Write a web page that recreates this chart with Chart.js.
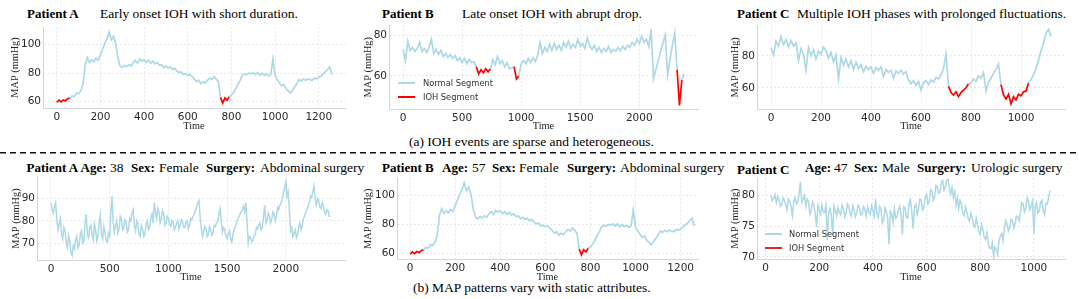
<!DOCTYPE html>
<html>
<head>
<meta charset="utf-8">
<title>IOH MAP examples</title>
<script src="https://cdn.jsdelivr.net/npm/chart.js"></script>
<style>
  body { margin: 0; width: 1079px; height: 299px; position: relative; overflow: hidden; background: #fff;
         font-family: 'Liberation Serif', 'Times New Roman', serif; color: #000; }
  .txt { position: absolute; white-space: pre; font-size: 13.5px; line-height: 13px; }
  .txt b { font-size: 13px; }
  .leg { position: absolute; font-family: 'DejaVu Sans', sans-serif; font-size: 8.3px; line-height: 10px; color: #333; white-space: pre; }
  .legline { position: absolute; height: 2px; width: 17px; }
  canvas { position: absolute; }
</style>
</head>
<body>

<!-- row (a) titles -->
<div class="txt" style="left:27px;top:6.5px"><b>Patient A</b></div>
<div class="txt" style="left:100px;top:6.5px">Early onset IOH with short duration.</div>
<div class="txt" style="left:382px;top:6.5px"><b>Patient B</b></div>
<div class="txt" style="left:462px;top:6.5px">Late onset IOH with abrupt drop.</div>
<div class="txt" style="left:737px;top:6.5px"><b>Patient C</b></div>
<div class="txt" style="left:797px;top:6.5px">Multiple IOH phases with prolonged fluctuations.</div>
<div class="txt" style="left:409px;top:134.5px">(a) IOH events are sparse and heterogeneous.</div>

<svg style="position:absolute;left:0;top:0" width="1079" height="299">
  <line x1="0" y1="152.7" x2="1079" y2="152.7" stroke="#111" stroke-width="1.4" stroke-dasharray="6 4"/>
</svg>

<!-- row (b) titles -->
<div class="txt" style="left:26.5px;top:160.7px"><b>Patient A</b></div>
<div class="txt" style="left:80.5px;top:160.7px"><b>Age:</b></div>
<div class="txt" style="left:110px;top:160.7px">38</div>
<div class="txt" style="left:131px;top:160.7px"><b>Sex:</b></div>
<div class="txt" style="left:159px;top:160.7px">Female</div>
<div class="txt" style="left:206px;top:160.7px"><b>Surgery:</b></div>
<div class="txt" style="left:260px;top:160.7px">Abdominal surgery</div>

<div class="txt" style="left:382px;top:160.7px"><b>Patient B</b></div>
<div class="txt" style="left:442px;top:160.7px"><b>Age:</b></div>
<div class="txt" style="left:472px;top:160.7px">57</div>
<div class="txt" style="left:492px;top:160.7px"><b>Sex:</b></div>
<div class="txt" style="left:519px;top:160.7px">Female</div>
<div class="txt" style="left:567px;top:160.7px"><b>Surgery:</b></div>
<div class="txt" style="left:620px;top:160.7px">Abdominal surgery</div>

<div class="txt" style="left:737px;top:163px"><b>Patient C</b></div>
<div class="txt" style="left:805px;top:160.7px"><b>Age:</b></div>
<div class="txt" style="left:834px;top:160.7px">47</div>
<div class="txt" style="left:854px;top:160.7px"><b>Sex:</b></div>
<div class="txt" style="left:882px;top:160.7px">Male</div>
<div class="txt" style="left:917px;top:160.7px"><b>Surgery:</b></div>
<div class="txt" style="left:971px;top:160.7px">Urologic surgery</div>
<div class="txt" style="left:413px;top:281px">(b) MAP patterns vary with static attributes.</div>

<canvas id="p1"></canvas>
<canvas id="p2"></canvas>
<canvas id="p3"></canvas>
<canvas id="p4"></canvas>
<canvas id="p5"></canvas>
<canvas id="p6"></canvas>

<!-- legends -->
<div class="legline" style="left:398px;top:82px;background:#add8e6"></div>
<div class="leg" style="left:423px;top:78px">Normal Segment</div>
<div class="legline" style="left:398px;top:96px;background:#ff0000"></div>
<div class="leg" style="left:423px;top:92px">IOH Segment</div>

<div class="legline" style="left:765px;top:233px;background:#add8e6"></div>
<div class="leg" style="left:789px;top:229px">Normal Segment</div>
<div class="legline" style="left:765px;top:247px;background:#e8251e"></div>
<div class="leg" style="left:789px;top:243px">IOH Segment</div>

<script>
// ── Data ───────────────────────────────────────

// Patient A (early onset IOH), used in both rows
const patientAStep = 10;
const patientAMap = [
  59.5, 61, 59.8, 61.2, 60.5, 62, 62.5, 64, 63.5, 66,
  65.5, 67.5, 72, 86, 91, 87.5, 89.5, 88, 90.5, 89,
  93, 97, 101, 104, 109, 103.5, 106, 101, 91, 85,
  84, 85.5, 84.5, 86, 85, 87.5, 89, 87, 90, 88.5,
  89.5, 87.5, 89, 87, 88.5, 86.5, 87.5, 85.5, 86, 84,
  85, 83.5, 84.5, 82.5, 83.5, 81.5, 80.5, 81, 79, 79.5,
  78.5, 79, 77.5, 76, 74, 75, 72.5, 74, 73, 75,
  76.5, 75.5, 77.5, 76, 74, 63, 59, 62.5, 61, 63.5,
  64.5, 66.5, 69, 72.5, 75, 78.5, 79.5, 79, 80, 79.5,
  80.5, 79, 80.5, 78.5, 80, 78.5, 79.5, 78, 79, 90,
  78, 75.5, 73, 71, 72, 69, 67.5, 66, 68, 70.5,
  72.5, 75.5, 74.5, 76, 75, 76, 75.5, 75, 76.5, 76,
  77, 78, 79.5, 81, 82.5, 84.5, 79
];
const patientAIoh = [[0, 6], [75, 79]];

// Patient B (late onset IOH with abrupt drop)
const patientBStep = 20;
const patientBMap = [
  73, 67.5, 77, 72.5, 74, 72, 73.5, 76.5, 72, 73.5,
  71.5, 74, 78, 71, 73, 70.5, 72.5, 69.5, 71, 69,
  70.5, 68.5, 70, 67.5, 69, 66.5, 68.5, 66, 68, 66.5,
  67, 64.5, 61, 63, 61.5, 63.5, 62, 63.5, 68, 65.5,
  69.5, 66, 67.5, 64.5, 66.5, 63.5, 64, 64.5, 58.5, 60,
  66, 67.5, 66, 68.5, 66.5, 69, 67, 70, 76.5, 71,
  74, 72, 75.5, 72.5, 76, 73, 75, 72.5, 76.5, 74,
  77, 73.5, 75.5, 74, 78, 74.5, 76, 73.5, 78.5, 75,
  73, 75, 72, 74, 71.5, 73.5, 72, 74.5, 71.5, 73,
  72, 74, 72.5, 74.5, 73, 75, 74, 76.5, 75, 78,
  76, 79.5, 76.5, 78, 74.5, 83, 58.5, 63, 67.5, 72,
  76, 80, 60.5, 68, 75, 81, 63, 45.5, 58, 61
];
const patientBIoh = [[31, 37], [47, 49], [116, 118]];

// Patient C (multiple IOH phases)
const patientCStep = 10;
const patientCMap = [
  85, 80.5, 89, 86, 92, 87, 90, 85.5, 89.5, 86,
  88, 77, 84.5, 81, 71, 85, 80, 84, 78, 83,
  81, 85.5, 83, 78.5, 82, 76, 80.5, 65.5, 79, 74,
  78, 73, 77, 71.5, 76, 72, 74.5, 70, 73.5, 71.5,
  73, 69, 72.5, 71, 73, 67, 71.5, 69.5, 71, 66,
  70.5, 69, 71, 68.5, 70, 65, 62.5, 64.5, 61.5, 64,
  58.5, 63, 64.5, 62, 65, 63.5, 66.5, 65.5, 68, 72,
  81, 61, 57, 55.5, 57.5, 54.5, 57, 58.5, 60, 62.5,
  63, 65.5, 64, 67.5, 66, 69.5, 58, 63.5, 66, 69,
  71.5, 75, 62, 55.5, 53, 56, 50, 54.5, 52.5, 56,
  55, 57.5, 58, 63, 65, 68, 72, 77, 83, 88,
  94, 96.5, 92
];
const patientCIoh = [[71, 79], [92, 103]];

// Row (b) Patient A: age 38, female, abdominal surgery
const staticAStep = 10;
const staticAMap = [
  88, 85, 83.5, 86.5, 88, 80, 76, 78.5, 81, 74,
  72, 77, 75.5, 70, 68, 73.5, 71, 66, 64.5, 69,
  67.5, 71.5, 73, 68, 69, 74, 75.5, 70, 71, 79,
  83, 74, 72.5, 77, 78, 73.5, 71.5, 78.5, 76, 71,
  73, 79, 82.5, 74, 72, 77.5, 75, 71, 70.5, 74.5,
  73, 84, 91, 79, 75, 78, 80, 74.5, 76.5, 82,
  81, 76, 77, 80.5, 79.5, 75, 76, 81, 80, 83.5,
  85, 78, 75.5, 80, 78.5, 74, 73, 78, 76.5, 73,
  74, 78.5, 80, 76, 77, 81.5, 83, 79, 88, 84,
  81, 85.5, 84, 79, 80.5, 84.5, 83, 78, 79, 82,
  81, 78.5, 77.5, 80, 79.5, 76, 77, 79, 80, 76.5,
  78, 80.5, 79.5, 77, 77, 79.5, 80, 76.5, 78, 81,
  80.5, 82, 83, 84.5, 86, 88, 89, 82, 77, 73,
  75, 77.5, 76.5, 73, 74, 77.5, 76, 73.5, 74.5, 78,
  77.5, 79, 80, 83, 85.5, 80, 75, 77, 76, 73,
  72, 74, 75.5, 72, 70.5, 74, 76, 77.5, 79, 81,
  81.5, 83, 84, 85, 86.5, 84, 88, 79, 70, 73,
  72.5, 70.5, 71, 73.5, 74, 77, 76.5, 78, 79, 76,
  77, 82, 87, 79, 80, 83.5, 82, 79, 80.5, 84,
  83, 80, 82, 86, 85, 87, 88, 90, 92, 95,
  97.5, 91, 93, 85, 75.5, 77, 73, 74.5, 76, 72.5,
  74, 77.5, 79, 76, 78, 81, 82, 84, 85, 87,
  88, 91, 90.5, 93, 95.5, 90, 87, 90, 89, 86,
  85.5, 88, 86.5, 84, 83, 85, 84.5, 82, 82
];

// Row (b) Patient C: age 47, male, urologic surgery (starts at t = 20)
const staticCStart = 20;
const staticCStep = 5;
const staticCMap = [
  80, 79.1, 79.5, 80.1, 78.8, 79.8, 79.3, 78.2, 78.4, 79.6,
  79.2, 78.5, 77.6, 79.4, 79, 78.1, 76.7, 78.9, 79.6, 78.6,
  79, 80.4, 82.2, 78.8, 79.3, 80, 78.2, 79.4, 79, 76.9,
  77.5, 78.9, 78.3, 77.1, 74.8, 78.4, 77.6, 76.9, 78.5, 77.3,
  77.2, 78.4, 72.8, 77.1, 77.8, 76.8, 73.5, 78.3, 77.6, 76.7,
  78, 77.2, 76.8, 78.4, 77.8, 76.5, 77, 78.6, 78.2, 77.1,
  76.6, 78.3, 77.6, 76.5, 77.2, 78.4, 78, 76.8, 76.9, 78.2,
  77.7, 76.6, 78.1, 77.2, 76.8, 78.3, 77.5, 76.6, 79.4, 77,
  76.4, 78.2, 77.8, 75.4, 75.8, 78, 77.4, 76.2, 72, 77.4,
  76.9, 75.6, 77.8, 76.2, 76.5, 77.6, 78.2, 76.8, 73.6, 78.1,
  77.9, 76.4, 76.3, 78.7, 79.3, 77.2, 74.6, 78.1, 78.5, 76.9,
  77.8, 79.4, 79.2, 77.6, 78, 79.8, 80.2, 78.6, 79, 80.9,
  80.6, 79.2, 79.8, 81.6, 81.4, 80.3, 80.5, 82.1, 82.4, 80.8,
  81.3, 82.4, 82.6, 81.1, 80.2, 81.3, 79.6, 80.6, 78.4, 79.6,
  77.8, 79.2, 78.6, 77.2, 76.7, 78.1, 77.3, 76.2, 75.8, 77.1,
  76.5, 75.1, 74.8, 76.3, 75.2, 74.1, 73.6, 75.2, 74.4, 73.1,
  72.8, 73.9, 72.2, 71.4, 71.3, 72.3, 70, 71.6, 71.2, 70.4,
  72.6, 73.4, 73.8, 72.6, 74.6, 75.9, 75.3, 74.2, 74.8, 76.1,
  75.9, 74.7, 75.4, 76.6, 76.5, 75.8, 77.2, 78.8, 78.6, 77.3,
  77.9, 79.6, 79, 77.6, 78.2, 79.1, 73.7, 78.3, 78.8, 77.1,
  77.4, 78.9, 79.2, 77.5, 76.8, 78.7, 78.6, 79.6, 80.8
];

// Tick values
const ticksA_x = [0, 200, 400, 600, 800, 1000, 1200];
const ticksA_y = [60, 80, 100];
const ticksB_x = [0, 500, 1000, 1500, 2000];
const ticksB_y = [60, 80];
const ticksC_x = [0, 200, 400, 600, 800, 1000];
const ticksC_y = [60, 80];
const ticksSA_x = [0, 500, 1000, 1500, 2000];
const ticksSA_y = [70, 80, 90];
const ticksSC_x = [0, 200, 400, 600, 800, 1000];
const ticksSC_y = [70, 75, 80];

// ── Layout (plot area in page pixels) ───────────
const layout = {
  p1: { l: 43,  r: 345,  t: 27,    b: 108,   yTitleX: 15,  xTitleY: 126.5 },
  p2: { l: 389, r: 698,  t: 25,    b: 109.5, yTitleX: 368, xTitleY: 126.5 },
  p3: { l: 757, r: 1065, t: 25.5,  b: 109.3, yTitleX: 735, xTitleY: 126.5 },
  p4: { l: 37,  r: 345,  t: 176.6, b: 260.5, yTitleX: 16,  xTitleY: 277 },
  p5: { l: 397, r: 698,  t: 177.7, b: 259.8, yTitleX: 368, xTitleY: 277 },
  p6: { l: 757, r: 1065, t: 178,   b: 259.3, yTitleX: 735, xTitleY: 277 },
};

const NORMAL = '#add8e6';
const IOH = '#ff0000';
const TICK_FONT = { family: "'DejaVu Sans', sans-serif", size: 10.5 };
const TITLE_FONT = { family: "'Liberation Serif', 'Times New Roman', serif", size: 10.3 };

function toPoints(values, step, start) {
  return values.map((v, i) => ({ x: start + i * step, y: v }));
}

function inIoh(ranges, i0, i1) {
  return ranges.some(([s, e]) => i0 >= s && i1 <= e);
}

function makePanel(id, cfg) {
  const lay = layout[id];
  const canvas = document.getElementById(id);
  const cl = Math.floor(lay.yTitleX - 6);
  const ct = Math.floor(lay.t - 10);
  const cr = Math.ceil(lay.r + 14);
  const cb = Math.ceil(lay.xTitleY + 6);
  canvas.width = cr - cl;
  canvas.height = cb - ct;
  canvas.style.left = cl + 'px';
  canvas.style.top = ct + 'px';

  const ranges = cfg.ioh || [];
  const axisCommon = {
    border: { display: true, color: '#d4d4d4', width: 1, dash: [2, 2] },
    grid: { color: '#e4e4e4', lineWidth: 0.8, drawTicks: false },
  };

  new Chart(canvas, {
    type: 'line',
    data: {
      datasets: [{
        data: toPoints(cfg.values, cfg.step, cfg.start || 0),
        borderColor: NORMAL,
        borderWidth: cfg.lineWidth || 1.7,
        pointRadius: 0,
        tension: 0,
        segment: {
          borderColor: (ctx) => inIoh(ranges, ctx.p0DataIndex, ctx.p1DataIndex) ? IOH : NORMAL,
        },
      }],
    },
    options: {
      responsive: false,
      animation: false,
      events: [],
      layout: { padding: { top: lay.t - ct, right: cr - lay.r, left: 0, bottom: 0 } },
      plugins: { legend: { display: false }, tooltip: { enabled: false } },
      scales: {
        x: {
          type: 'linear', min: cfg.xMin, max: cfg.xMax,
          ...axisCommon,
          afterBuildTicks: (s) => { s.ticks = cfg.xTicks.map((v) => ({ value: v })); },
          afterFit: (s) => { s.height = cb - lay.b; },
          ticks: { font: TICK_FONT, color: '#2a2a2a', padding: 2.5, maxRotation: 0, autoSkip: false,
                   callback: (v) => String(v) },
          title: { display: true, text: 'Time', font: TITLE_FONT, color: '#222',
                   padding: { top: 0, bottom: cb - lay.xTitleY - 6 } },
        },
        y: {
          type: 'linear', min: cfg.yMin, max: cfg.yMax,
          ...axisCommon,
          afterBuildTicks: (s) => { s.ticks = cfg.yTicks.map((v) => ({ value: v })); },
          afterFit: (s) => { s.width = lay.l - cl; },
          ticks: { font: TICK_FONT, color: '#2a2a2a', padding: 2, autoSkip: false,
                   callback: (v) => String(v) },
          title: { display: true, text: 'MAP (mmHg)', font: TITLE_FONT, color: '#222',
                   padding: { top: lay.yTitleX - cl - 6, bottom: 0 } },
        },
      },
    },
  });
}

makePanel('p1', { values: patientAMap, step: patientAStep, ioh: patientAIoh,
  xMin: -63, xMax: 1320, yMin: 55.5, yMax: 112.5, xTicks: ticksA_x, yTicks: ticksA_y });
makePanel('p2', { values: patientBMap, step: patientBStep, ioh: patientBIoh,
  xMin: -119, xMax: 2497, yMin: 43.5, yMax: 85, xTicks: ticksB_x, yTicks: ticksB_y });
makePanel('p3', { values: patientCMap, step: patientCStep, ioh: patientCIoh,
  xMin: -56, xMax: 1176, yMin: 46.6, yMax: 98.9, xTicks: ticksC_x, yTicks: ticksC_y });
makePanel('p4', { values: staticAMap, step: staticAStep, lineWidth: 1.5,
  xMin: -119, xMax: 2504, yMin: 62.3, yMax: 99.7, xTicks: ticksSA_x, yTicks: ticksSA_y });
makePanel('p5', { values: patientAMap, step: patientAStep, ioh: patientAIoh,
  xMin: -58, xMax: 1277, yMin: 55.5, yMax: 112.5, xTicks: ticksA_x, yTicks: ticksA_y });
makePanel('p6', { values: staticCMap, step: staticCStep, start: staticCStart, lineWidth: 1.5,
  xMin: -32, xMax: 1116, yMin: 69.6, yMax: 82.8, xTicks: ticksSC_x, yTicks: ticksSC_y });
</script>
</body>
</html>
